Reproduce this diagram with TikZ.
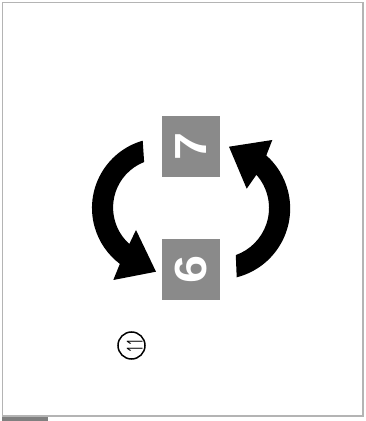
\documentclass[tikz,border=0pt]{standalone}
\usepackage{fontspec}
\setmainfont{Liberation Sans}
\newfontfamily\markfont{Open Sans}
\usepackage{xcolor}
\definecolor{cBox}{HTML}{8A8A8A}
\definecolor{cFrame}{HTML}{B4B4B4}
\definecolor{cBar}{HTML}{808080}
\usetikzlibrary{positioning}
\tikzset{
  node-digit/.style={fill=cBox,text=white,minimum width=61pt,minimum height=58pt,
    inner sep=0pt,rotate=90,font=\fontsize{45}{45}\selectfont\bfseries},
  node-mark/.style={draw=black,line width=1.5pt,circle,minimum size=27pt,inner sep=0pt,
    rotate=90,font=\markfont\fontsize{22}{22}\selectfont},
  arrow-turn/.style={fill=black,draw=none},
}
\begin{document}
\begin{tikzpicture}[x=1pt,y=1pt]
  \useasboundingbox (0,0) rectangle (366,421);
  \draw[cFrame,line width=1.5pt] (2.7,5.2) rectangle (363,418.7);
  \fill[cBar] (2,0) rectangle (48,4.3);
  \node[node-digit] (seven) at (191,274.5) {\scalebox{1.12}[1]{7}};
  \node[node-digit] (six) at (191,151.5) {\scalebox{1.12}[1]{6}};
  \node[node-mark] (mark) at (131.5,75.5) {\raisebox{-11pt}[8pt][8pt]{\scalebox{0.55}[1]{11}}};
  % left arrow runs down from 7 to 6
  \fill[arrow-turn] (142.7,280.3) arc[start angle=106,end angle=233,radius=70]
    -- (113.3,141) -- (156,149.3) -- (136,191) -- (129.3,177)
    arc[start angle=228,end angle=111.5,radius=49] -- cycle;
  % right arrow runs up from 6 to 7
  \fill[arrow-turn] (236.7,143.7) arc[start angle=-75.7,end angle=48.4,radius=71]
    -- (272.3,281) -- (229,274.3) -- (246.7,232.3) -- (256.4,246.2)
    arc[start angle=41.6,end angle=-70.4,radius=50] -- cycle;
\end{tikzpicture}
\end{document}
